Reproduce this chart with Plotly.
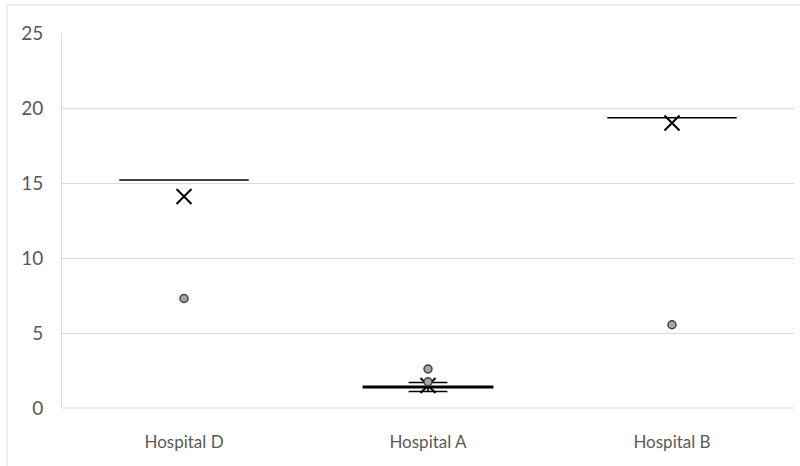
import plotly.graph_objects as go

categories = ["Hospital D", "Hospital A", "Hospital B"]
q1 = [15.2, 1.35, 19.35]
median = [15.2, 1.4, 19.35]
q3 = [15.2, 1.45, 19.35]
lower = [15.2, 1.1, 19.35]
upper = [15.2, 1.7, 19.35]
means = [14.1, 1.5, 19.0]
outlier_cats = ["Hospital D", "Hospital A", "Hospital A", "Hospital B"]
outlier_vals = [7.3, 2.6, 1.75, 5.55]
y_ticks = [0, 5, 10, 15, 20, 25]

W, H = 800, 466
ML, MR, MT, MB = 62, 6, 33, 58
pw = W - ML - MR
ph = H - MT - MB

fig = go.Figure()
fig.add_trace(go.Box(
    x=categories, q1=q1, median=median, q3=q3,
    lowerfence=lower, upperfence=upper,
    boxpoints=False, width=0.53, whiskerwidth=0.3,
    fillcolor="rgba(0,0,0,0)", line=dict(color="black", width=1.6),
    showlegend=False,
))
fig.add_trace(go.Scatter(
    x=categories, y=means, mode="markers",
    marker=dict(symbol="x-thin", size=15, line=dict(color="black", width=2)),
    showlegend=False,
))
fig.add_trace(go.Scatter(
    x=outlier_cats, y=outlier_vals, mode="markers",
    marker=dict(symbol="circle", size=8, color="#A5A5A5",
                line=dict(color="#404040", width=1.5)),
    showlegend=False,
))

font = dict(family="Lato, Carlito, 'Open Sans', sans-serif", size=17, color="#595959")
yfont = dict(family="Lato, Carlito, 'Open Sans', sans-serif", size=19, color="#595959")
fig.update_layout(
    width=W, height=H,
    margin=dict(l=ML, r=MR, t=MT, b=MB, pad=0),
    paper_bgcolor="white", plot_bgcolor="white",
    font=font,
    xaxis=dict(type="category", categoryorder="array", categoryarray=categories,
               range=[-0.5, 2.5], automargin=False,
               showgrid=False, zeroline=False, showline=False,
               ticks="", ticklabelstandoff=22, tickfont=font),
    yaxis=dict(range=[0, 25], tickvals=y_ticks, showgrid=True, automargin=False,
               gridcolor="#D9D9D9", gridwidth=1, zeroline=False,
               showline=True, linecolor="#D9D9D9", linewidth=1,
               ticks="", ticklabelstandoff=14, tickfont=yfont),
    shapes=[
        dict(type="line", xref="paper", yref="paper",
             x0=(7 - ML) / pw, x1=(W + 5 - ML) / pw,
             y0=(H - 5 - MB) / ph, y1=(H - 5 - MB) / ph,
             line=dict(color="#D9D9D9", width=1)),
        dict(type="line", xref="paper", yref="paper",
             x0=(7 - ML) / pw, x1=(7 - ML) / pw,
             y0=(H - 5 - MB) / ph, y1=-MB / ph - 0.1,
             line=dict(color="#D9D9D9", width=1)),
        dict(type="line", xref="paper", yref="paper",
             x0=0, x1=1, y0=0, y1=0,
             line=dict(color="#D9D9D9", width=1)),
    ],
)
fig.write_html("out.html", config={"displayModeBar": False},
               post_script="document.body.style.margin='0';document.body.style.overflow='hidden';")
